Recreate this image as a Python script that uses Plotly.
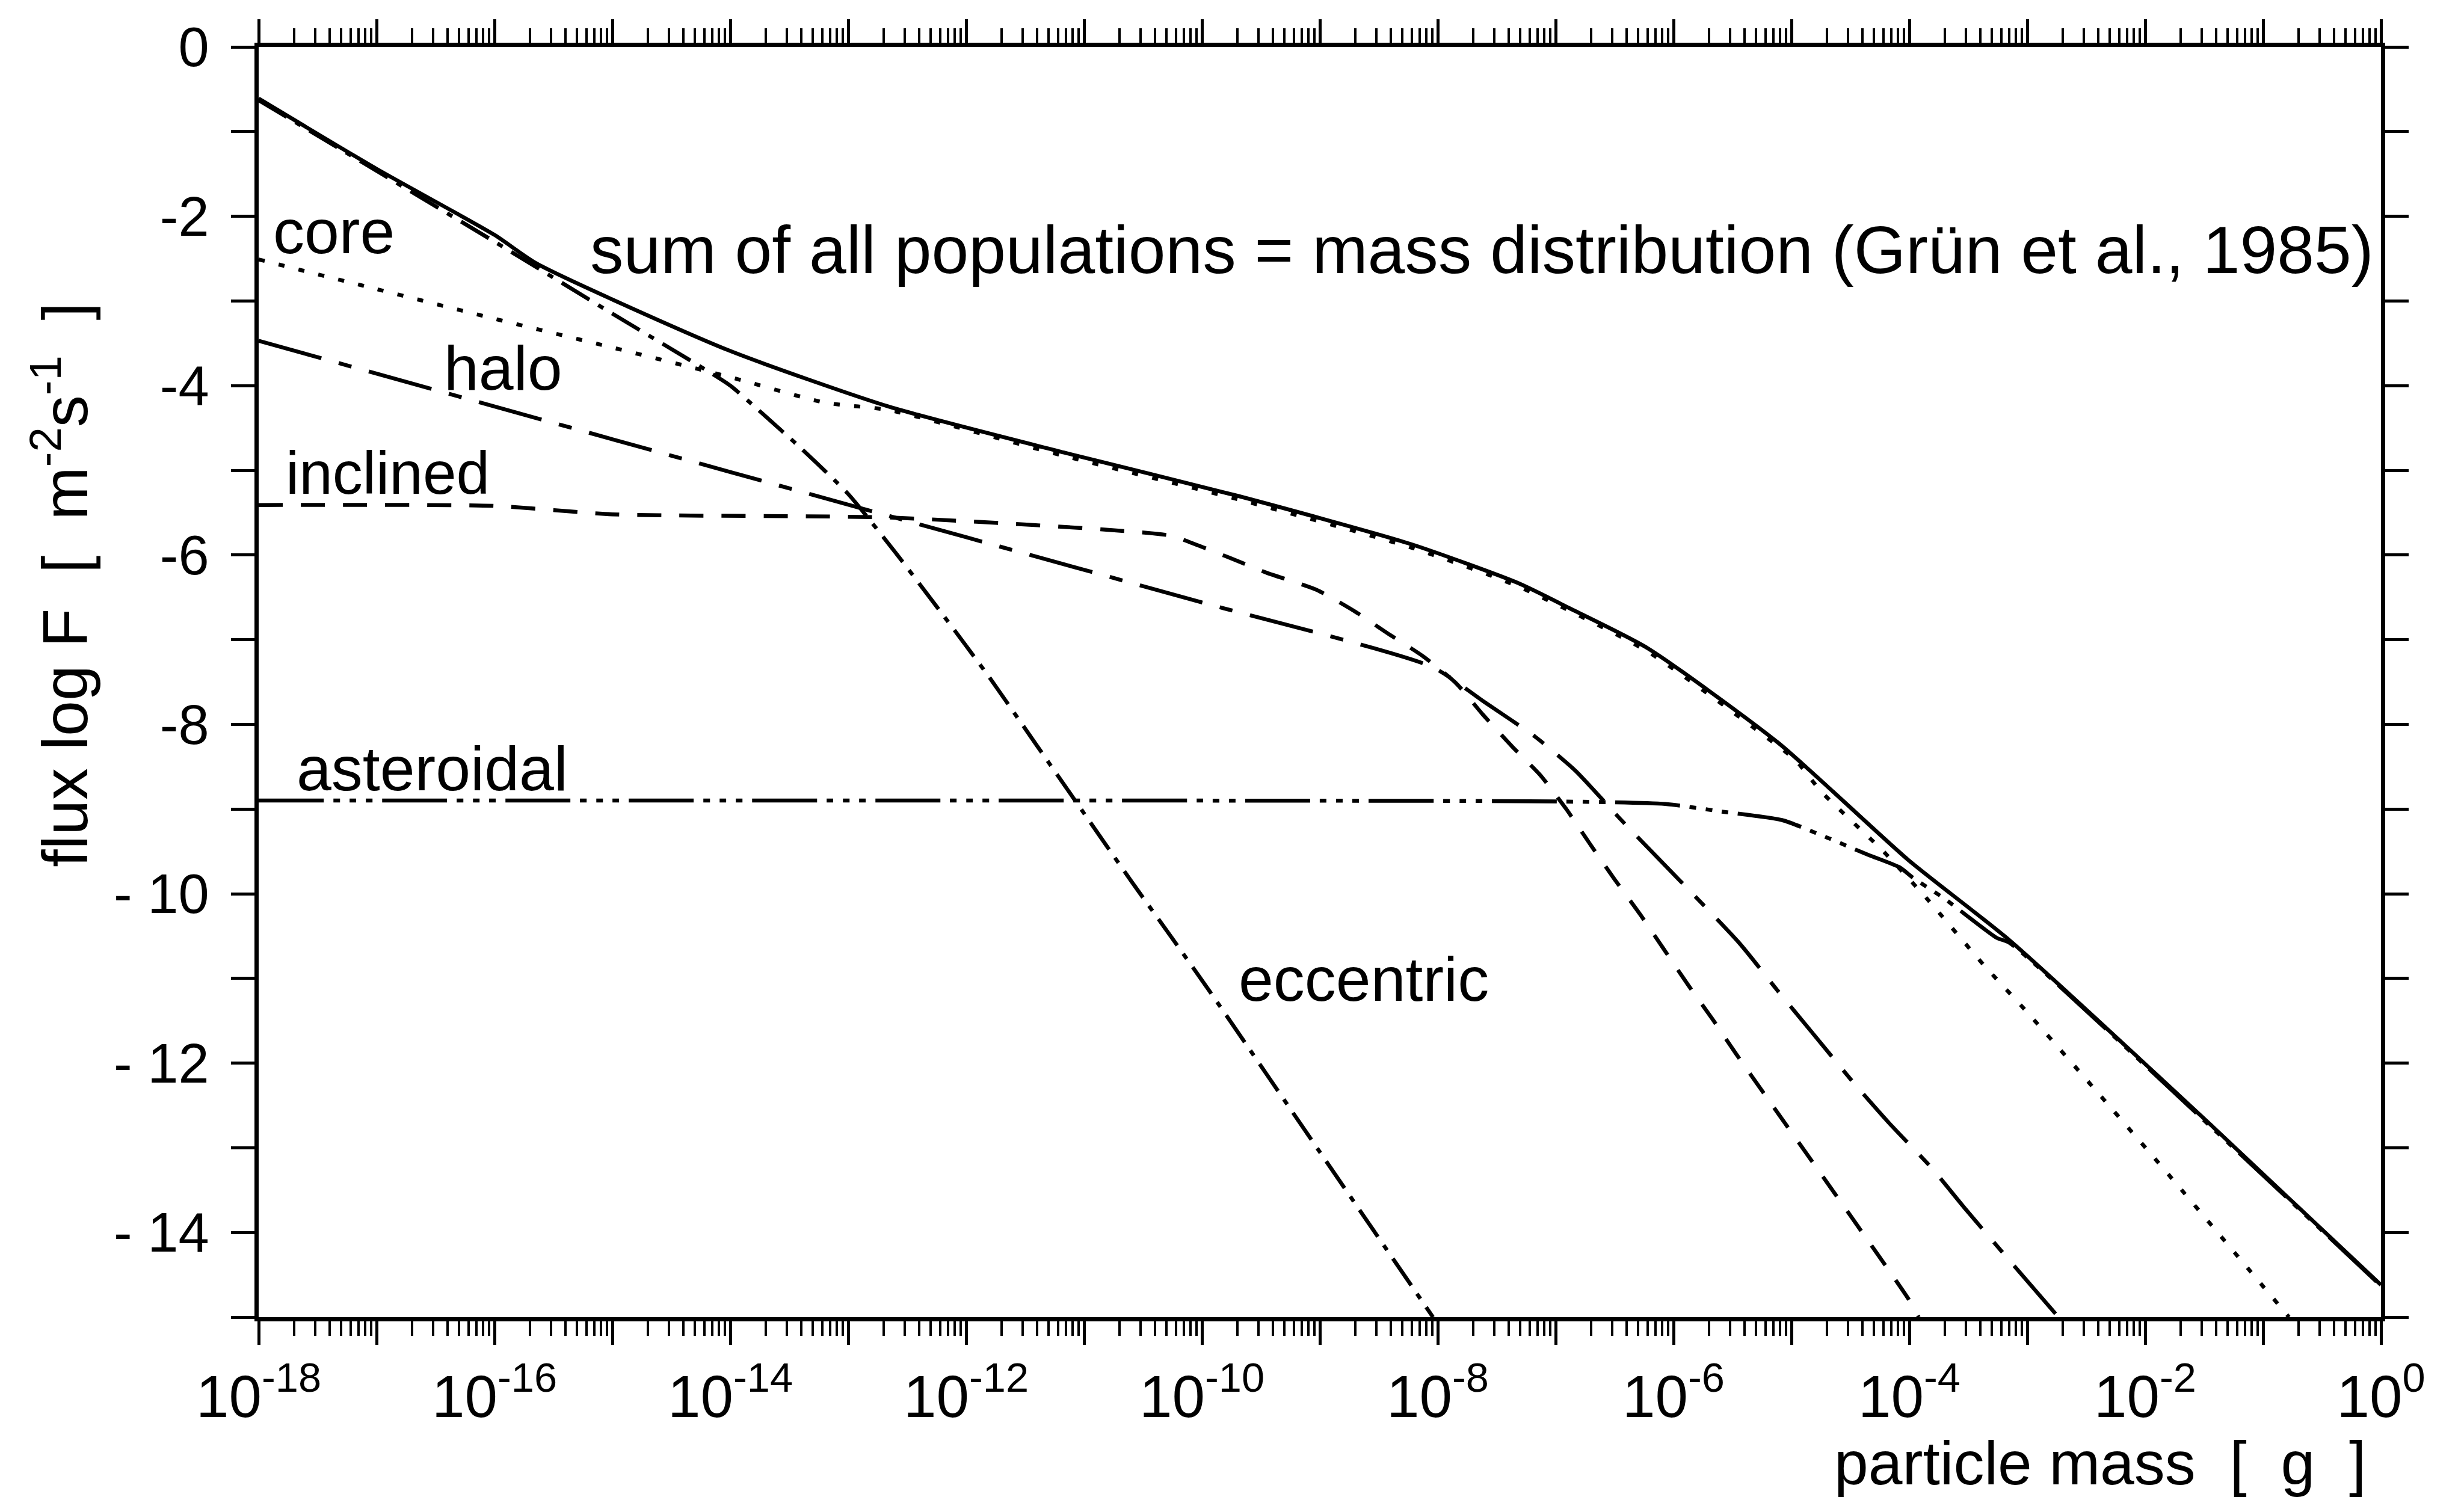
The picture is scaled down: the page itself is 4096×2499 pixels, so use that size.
import plotly.graph_objects as go

# ---------------- data (log10 particle mass [g], log10 flux) ----------------
sum_logm = [-18, -17, -16, -15.64, -14.02, -12.65, -11.17, -9.7, -8.23, -7.32, -6.88, -6.22, -5.11, -4.01, -3.15, -1.42, 0]
sum_logf = [-0.61, -1.44, -2.22, -2.56, -3.58, -4.25, -4.79, -5.3, -5.87, -6.33, -6.63, -7.1, -8.22, -9.6, -10.55, -12.76, -14.62]

core_logm = [-18, -17, -16, -15, -14, -13.2, -12.65, -11.17, -9.7, -8.23, -7.32, -6.22, -5.11, -4.96, -4.75, -4.22, -3.85, -3.37, -3.0, -2.42, -1.83, -1.24, -0.78]
core_logf = [-2.51, -2.86, -3.21, -3.55, -3.9, -4.2, -4.29, -4.83, -5.34, -5.91, -6.37, -7.14, -8.26, -8.43, -8.79, -9.5, -10.06, -10.84, -11.4, -12.32, -13.27, -14.24, -15.0]

halo_logm = [-18, -14, -12, -10, -8.05, -7.6, -7.17, -6.83, -6.45, -5.45, -5.12, -4.83, -4.48, -4.17, -3.81, -3.52, -3.17, -2.76]
halo_logf = [-3.47, -5.02, -5.79, -6.56, -7.32, -7.74, -8.15, -8.55, -9.12, -10.57, -11.14, -11.63, -12.22, -12.71, -13.24, -13.73, -14.3, -14.96]

incl_logm = [-18, -16, -15, -12.6, -10.27, -10.1, -9.77, -9.45, -9.03, -8.71, -8.43, -8.12, -7.84, -7.62, -7.37, -7.13, -6.91, -6.7, -6.5, -6.28, -6.08, -5.88, -5.67, -5.47, -4.01, -3.92]
incl_logf = [-5.41, -5.42, -5.52, -5.56, -5.77, -5.85, -6.03, -6.21, -6.41, -6.66, -6.92, -7.2, -7.52, -7.88, -8.26, -8.6, -9.0, -9.43, -9.83, -10.25, -10.66, -11.07, -11.48, -11.89, -14.78, -15.0]

ast_logm = [-18, -10, -7, -6.07, -5.59, -5.08, -4.71, -4.35, -4.08, -3.97, -3.7, -3.26, -3.15, -1.42, 0]
ast_logf = [-8.9, -8.9, -8.91, -8.94, -9.03, -9.13, -9.33, -9.54, -9.69, -9.81, -10.06, -10.52, -10.58, -12.78, -14.63]

ecc_logm = [-18, -16, -15, -14.2, -14, -13.8, -13.4, -13, -12.6, -12.2, -11.8, -11.4, -11, -10.6, -10.25, -9.94, -9, -8.04]
ecc_logf = [-0.63, -2.3, -3.15, -3.82, -4.0, -4.24, -4.74, -5.28, -5.97, -6.7, -7.45, -8.25, -9.05, -9.85, -10.53, -11.14, -13.05, -15.0]

x_decades = list(range(-18, 1))
x_labels = [("10<sup>%d</sup>" % k) if k % 2 == 0 else "" for k in x_decades]
y_major = list(range(-14, 1, 2))
y_labels = ["- 14", "- 12", "- 10", "-8", "-6", "-4", "-2", "0"]
y_odd = list(range(-15, 0, 2))

FONT = "Liberation Sans, Arial, sans-serif"
LW = 6.5


def mass(logm):
    return [10.0 ** v for v in logm]


fig = go.Figure()
series = [
    (sum_logm, sum_logf, "solid", "sum"),
    (core_logm, core_logf, "10px,24px", "core"),
    (halo_logm, halo_logf, "108px,30px,22px,30px", "halo"),
    (incl_logm, incl_logf, "40px,30px", "inclined"),
    (ast_logm, ast_logf, "108px,16px,11px,16px,11px,16px,11px,16px", "asteroidal"),
    (ecc_logm, ecc_logf, "54px,17px,10px,17px", "eccentric"),
]
for lm, lf, dash, name in series:
    fig.add_trace(go.Scatter(x=mass(lm), y=lf, mode="lines", name=name,
                             line=dict(color="black", width=LW, dash=dash,
                                       shape="spline", smoothing=0.6)))

minor_vals = [d * 10.0 ** k for k in range(-18, 0) for d in range(2, 10)]

axis_common = dict(showgrid=False, zeroline=False, showline=True, linewidth=7,
                   linecolor="black", mirror="ticks", ticks="outside",
                   tickcolor="black")

fig.update_layout(
    width=4096, height=2499,
    margin=dict(l=430, r=138, t=78, b=309, autoexpand=False),
    plot_bgcolor="white", paper_bgcolor="white", showlegend=False,
    font=dict(family=FONT, color="black"),
    xaxis=dict(type="log", range=[-18, 0], tickmode="array",
               tickvals=[10.0 ** k for k in x_decades], ticktext=x_labels,
               ticklen=39, tickwidth=5,
               tickfont=dict(family=FONT, size=98, color="black"),
               ticklabelstandoff=2,
               minor=dict(tickmode="array", tickvals=minor_vals,
                          ticks="outside", ticklen=24, tickwidth=4,
                          tickcolor="black", showgrid=False),
               **axis_common),
    yaxis=dict(range=[-15, 0], tickmode="array", tickvals=y_major, ticktext=y_labels,
               ticklen=39, tickwidth=5,
               tickfont=dict(family=FONT, size=92, color="black"),
               ticklabelstandoff=18,
               minor=dict(tickmode="array", tickvals=y_odd, ticks="outside",
                          ticklen=39, tickwidth=5, tickcolor="black", showgrid=False),
               **axis_common),
)

labels = [
    ("core", -17.89, -2.18, 104),
    ("halo", -16.44, -3.79, 104),
    ("inclined", -17.78, -5.03, 100),
    ("asteroidal", -17.69, -8.52, 104),
    ("eccentric", -9.7, -11.01, 104),
    ("sum of all populations = mass distribution (Grün et al., 1985)", -15.2, -2.40, 111),
]
for txt, lx, ly, fs in labels:
    fig.add_annotation(x=lx, y=ly, xref="x", yref="y", text=txt, showarrow=False,
                       xanchor="left", yanchor="middle",
                       font=dict(family=FONT, size=fs, color="black"))

fig.add_annotation(x=0.9935, y=-0.1150, xref="paper", yref="paper",
                   text="particle\u00a0mass\u00a0\u00a0[\u00a0\u00a0g\u00a0\u00a0]",
                   showarrow=False, xanchor="right", yanchor="middle",
                   font=dict(family=FONT, size=102, color="black"))
fig.add_annotation(x=-0.0933, y=0.5767, xref="paper", yref="paper",
                   text="flux\u00a0log\u00a0F\u00a0\u00a0[\u00a0\u00a0m<sup>-2</sup>s<sup>-1</sup>\u00a0\u00a0]",
                   showarrow=False, textangle=-90, xanchor="center", yanchor="middle",
                   font=dict(family=FONT, size=106, color="black"))

fig.write_html("out.html")
